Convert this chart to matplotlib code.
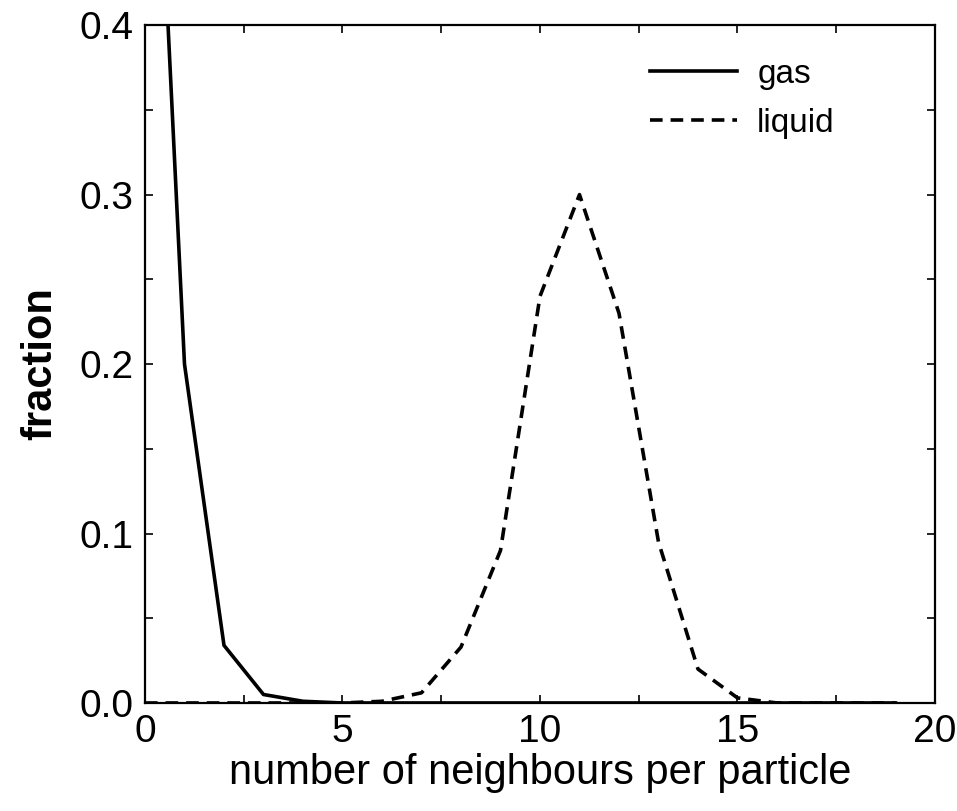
import matplotlib
matplotlib.use("Agg")
import matplotlib.pyplot as plt
from matplotlib.ticker import MultipleLocator

plt.rcParams['font.family'] = ['Liberation Sans', 'DejaVu Sans']

# number of neighbours per particle
neighbours = list(range(0, 20))

# fraction of particles
gas = [0.68, 0.20, 0.034, 0.005, 0.001, 0.0, 0.0, 0.0, 0.0, 0.0,
       0.0, 0.0, 0.0, 0.0, 0.0, 0.0, 0.0, 0.0, 0.0, 0.0]
liquid = [0.0, 0.0, 0.0, 0.0, 0.0, 0.0, 0.001, 0.006, 0.033, 0.09,
          0.24, 0.30, 0.23, 0.095, 0.02, 0.003, 0.0, 0.0, 0.0, 0.0]

fig = plt.figure(figsize=(9.57, 8.11), dpi=100)
ax = fig.add_axes([0.1515, 0.1332, 0.8255, 0.8358])

ax.plot(neighbours, gas, color='black', lw=2.6, label='gas')
ax.plot(neighbours, liquid, color='black', lw=2.6, linestyle=(0, (3.5, 2.2)), label='liquid')

ax.set_xlim(0, 20)
ax.set_ylim(0, 0.4)
ax.xaxis.set_major_locator(MultipleLocator(5))
ax.xaxis.set_minor_locator(MultipleLocator(2.5))
ax.yaxis.set_major_locator(MultipleLocator(0.1))
ax.yaxis.set_minor_locator(MultipleLocator(0.05))
ax.yaxis.set_major_formatter(lambda v, pos: f"{v:.1f}")

ax.tick_params(which='both', direction='in', top=True, right=True,
               length=6, width=1.2, labelsize=28, pad=8)
for s in ax.spines.values():
    s.set_linewidth(1.6)

ax.set_xlabel('number of neighbours per particle', fontsize=30, labelpad=2)
ax.set_ylabel('fraction', fontsize=30, fontweight='bold', labelpad=14)

ax.legend(loc='upper right', bbox_to_anchor=(0.89, 0.97), borderaxespad=0,
          frameon=False, fontsize=24, handlelength=2.6,
          handletextpad=0.6, labelspacing=0.55)

fig.savefig('out.png', dpi=100)
